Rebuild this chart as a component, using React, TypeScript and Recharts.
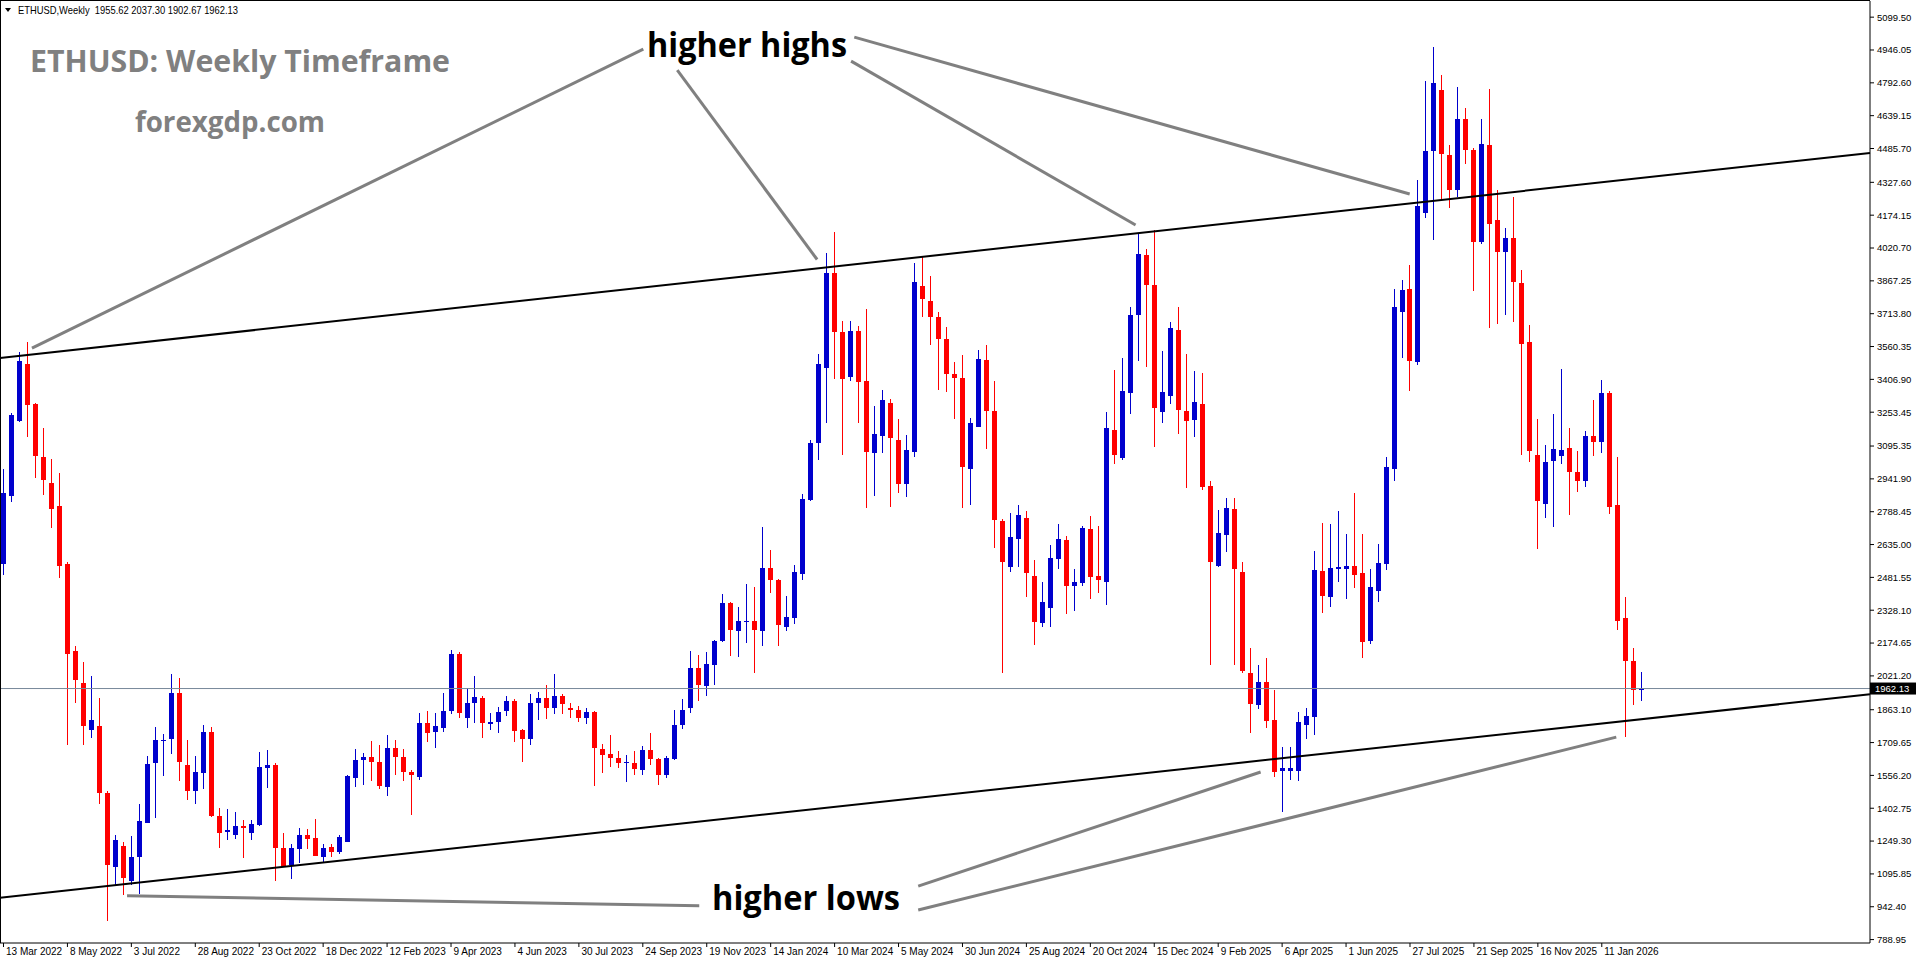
import { ComposedChart, Bar, XAxis, YAxis, ReferenceLine } from 'recharts';

const W = 1916;
const H = 964;
const SLOTS = 234; // 206 weekly bars + empty space on the right

const dateLabels = [
  '13 Mar 2022', '8 May 2022', '3 Jul 2022', '28 Aug 2022', '23 Oct 2022', '18 Dec 2022',
  '12 Feb 2023', '9 Apr 2023', '4 Jun 2023', '30 Jul 2023', '24 Sep 2023', '19 Nov 2023',
  '14 Jan 2024', '10 Mar 2024', '5 May 2024', '30 Jun 2024', '25 Aug 2024', '20 Oct 2024',
  '15 Dec 2024', '9 Feb 2025', '6 Apr 2025', '1 Jun 2025', '27 Jul 2025', '21 Sep 2025',
  '16 Nov 2025', '11 Jan 2026',
];
const BARS_PER_LABEL = 8;

const priceTicks = [
  5099.5, 4946.05, 4792.6, 4639.15, 4485.7, 4327.6, 4174.15, 4020.7, 3867.25, 3713.8,
  3560.35, 3406.9, 3253.45, 3095.35, 2941.9, 2788.45, 2635.0, 2481.55, 2328.1, 2174.65,
  2021.2, 1863.1, 1709.65, 1556.2, 1402.75, 1249.3, 1095.85, 942.4, 788.95,
];

const opens = [
  2543, 2864, 3211, 3479, 3291, 3043, 2922, 2814, 2543, 2136, 1989, 1770, 1787, 1475, 1130, 1228, 1064, 1177, 1332, 1612,
  1720, 1725, 1943, 1605, 1482, 1569, 1761, 1368, 1291, 1279, 1321, 1289, 1325, 1591, 1605, 1216, 1138, 1213, 1278, 1263,
  1177, 1221, 1200, 1247, 1546, 1626, 1643, 1619, 1504, 1685, 1643, 1571, 1551, 1802, 1761, 1780, 1855, 2124, 1826, 1893,
  1917, 1795, 1805, 1855, 1904, 1769, 1728, 1893, 1918, 1869, 1926, 1871, 1864, 1823, 1853, 1679, 1656, 1639, 1612, 1612,
  1582, 1674, 1635, 1560, 1633, 1791, 1872, 2060, 1973, 2073, 2183, 2361, 2231, 2273, 2280, 2231, 2526, 2468, 2252, 2294,
  2496, 2842, 3110, 3458, 3906, 3630, 3420, 3633, 3399, 3065, 3144, 3298, 3124, 2918, 3069, 3843, 3773, 3697, 3596, 3432,
  3415, 2988, 3186, 3497, 3259, 2745, 2532, 2661, 2758, 2488, 2270, 2340, 2569, 2655, 2439, 2457, 2706, 2488, 2462, 3170,
  3038, 3341, 3709, 3988, 3848, 3253, 3331, 3638, 3259, 3219, 3290, 2907, 2537, 2679, 2800, 2506, 2035, 1886, 1993, 1815,
  1577, 1579, 1577, 1793, 1830, 2510, 2389, 2522, 2521, 2535, 2501, 2183, 2419, 2546, 2988, 3720, 3830, 3486, 4186, 4476,
  4760, 4455, 4290, 4625, 4481, 4051, 4504, 4151, 4004, 4067, 3858, 3581, 3055, 2825, 3027, 3051, 3085, 2974, 2932, 3144,
  3113, 3341, 2818, 2290, 2090, 1955.62,
];
const highs = [
  2990, 3248, 3534, 3582, 3295, 3179, 3034, 2968, 2555, 2163, 2088, 2020, 1918, 1484, 1279, 1246, 1275, 1421, 1648, 1784,
  1750, 2029, 2011, 1721, 1648, 1793, 1784, 1403, 1400, 1386, 1346, 1346, 1666, 1675, 1612, 1286, 1236, 1309, 1305, 1352,
  1236, 1235, 1278, 1556, 1680, 1663, 1718, 1699, 1746, 1722, 1680, 1582, 1848, 1858, 1848, 1942, 2143, 2133, 1964, 2021,
  1925, 1848, 1875, 1928, 1912, 1774, 1937, 1948, 1979, 2030, 1937, 1893, 1879, 1872, 1858, 1704, 1744, 1668, 1651, 1668,
  1695, 1753, 1637, 1647, 1864, 1911, 2136, 2117, 2131, 2187, 2403, 2368, 2342, 2449, 2435, 2716, 2610, 2472, 2393, 2540,
  2869, 3124, 3525, 3999, 4095, 3680, 3680, 3656, 3736, 3284, 3357, 3315, 3222, 3147, 3952, 3977, 3890, 3720, 3652, 3487,
  3521, 3228, 3544, 3568, 3399, 2753, 2784, 2820, 2794, 2563, 2459, 2633, 2731, 2675, 2520, 2722, 2769, 2722, 3256, 3451,
  3506, 3745, 4093, 4017, 4106, 3540, 3676, 3745, 3526, 3448, 3437, 2932, 2796, 2851, 2854, 2552, 2152, 2071, 2103, 1953,
  1690, 1690, 1853, 1871, 2606, 2738, 2733, 2791, 2682, 2878, 2682, 2521, 2639, 3043, 3830, 3872, 3941, 4337, 4800, 4960,
  4830, 4500, 4772, 4674, 4486, 4625, 4765, 4290, 4114, 4258, 3918, 3660, 3220, 3099, 3244, 3453, 3178, 3074, 3167, 3311,
  3404, 3353, 3044, 2392, 2150, 2037.3,
];
const lows = [
  2493, 2832, 3207, 3136, 2945, 2868, 2713, 2479, 1698, 1895, 1698, 1732, 1421, 877, 1043, 996, 1043, 1000, 1332, 1355,
  1555, 1654, 1529, 1443, 1421, 1493, 1364, 1216, 1252, 1261, 1171, 1252, 1321, 1498, 1064, 1131, 1071, 1149, 1213, 1178,
  1146, 1174, 1190, 1245, 1500, 1512, 1532, 1492, 1462, 1556, 1532, 1369, 1537, 1710, 1683, 1761, 1844, 1823, 1780, 1803,
  1733, 1767, 1756, 1836, 1714, 1621, 1696, 1813, 1820, 1844, 1844, 1823, 1806, 1797, 1507, 1568, 1595, 1589, 1524, 1560,
  1556, 1607, 1510, 1542, 1626, 1774, 1846, 1902, 1929, 1978, 2180, 2113, 2108, 2175, 2034, 2161, 2407, 2161, 2231, 2262,
  2468, 2839, 3032, 3203, 3410, 3054, 3401, 3202, 2808, 2864, 3065, 2812, 2878, 2859, 3046, 3700, 3568, 3357, 3350, 3222,
  2808, 2820, 3182, 3082, 2621, 2037, 2509, 2532, 2392, 2164, 2252, 2249, 2523, 2309, 2326, 2439, 2379, 2407, 2353, 3012,
  3030, 3246, 3495, 3467, 3090, 3204, 3290, 3150, 2900, 3136, 2891, 2071, 2530, 2601, 2071, 2035, 1754, 1866, 1777, 1549,
  1385, 1536, 1531, 1726, 1744, 2316, 2343, 2461, 2379, 2430, 2107, 2171, 2365, 2516, 2930, 3509, 3353, 3476, 4162, 4058,
  4248, 4207, 4260, 4411, 3818, 4039, 3648, 3667, 3709, 3674, 3055, 3020, 2616, 2760, 2718, 3011, 2771, 2881, 2904, 3051,
  3062, 2778, 2237, 1736, 1883, 1902.67,
];
const closes = [
  2877, 3240, 3493, 3288, 3047, 2936, 2802, 2534, 2123, 2002, 1787, 1814, 1475, 1136, 1252, 1078, 1177, 1345, 1609, 1721,
  1723, 1943, 1621, 1482, 1573, 1761, 1368, 1289, 1303, 1321, 1309, 1330, 1596, 1605, 1215, 1134, 1216, 1278, 1260, 1180,
  1216, 1199, 1267, 1554, 1629, 1643, 1621, 1509, 1685, 1640, 1570, 1556, 1802, 1756, 1788, 1858, 2124, 1847, 1893, 1921,
  1799, 1805, 1852, 1904, 1766, 1728, 1893, 1918, 1869, 1926, 1892, 1862, 1823, 1851, 1682, 1653, 1639, 1612, 1617, 1586,
  1674, 1635, 1560, 1639, 1793, 1864, 2060, 1978, 2075, 2183, 2361, 2236, 2277, 2280, 2236, 2526, 2470, 2257, 2298, 2505,
  2846, 3110, 3479, 3906, 3630, 3409, 3633, 3396, 3069, 3152, 3311, 3135, 2918, 3077, 3863, 3784, 3700, 3596, 3432, 3415,
  2999, 3202, 3502, 3261, 2750, 2555, 2669, 2773, 2501, 2275, 2365, 2571, 2660, 2439, 2459, 2711, 2485, 2467, 3178, 3054,
  3352, 3709, 3993, 3848, 3272, 3346, 3649, 3263, 3214, 3299, 2902, 2552, 2688, 2808, 2521, 2044, 1890, 1993, 1812, 1572,
  1590, 1590, 1806, 1833, 2515, 2394, 2524, 2528, 2535, 2495, 2180, 2437, 2548, 2997, 3744, 3823, 3492, 4218, 4476, 4793,
  4458, 4293, 4625, 4481, 4051, 4509, 4132, 4004, 4067, 3860, 3574, 3074, 2837, 3020, 3081, 3078, 2974, 2932, 3141, 3113,
  3341, 2811, 2278, 2092, 1953, 1962.13,
];

// channel lines: [bar index, price] at the left and right edges of the chart
const upperChannel = [[-0.5, 3507], [233.5, 4465]];
const lowerChannel = [[-0.5, 985], [233.5, 1935]];

// grey pointer lines from the captions to the touches
const highPointers = [
  [[80, 4950], [3.5, 3553]],
  [[84.25, 4852], [101.75, 3967]],
  [[106, 4894], [141.6, 4128]],
  [[106.4, 5006], [175.9, 4273]],
];
const lowPointers = [
  [[114.4, 1039], [157.25, 1572]],
  [[114.4, 927], [201.75, 1735]],
  [[15.4, 994], [87, 947]],
];

const last = opens.length - 1;
const data = Array.from({ length: SLOTS }, (_, i) =>
  i < opens.length
    ? { idx: i, o: opens[i], h: highs[i], l: lows[i], c: closes[i], range: [lows[i], highs[i]] }
    : { idx: i },
);

const AXIS_FONT = '"Liberation Sans", Arial, sans-serif';

function Candle(props: any) {
  const { x, y, width, height, payload } = props;
  if (!payload || payload.o == null || y == null) return null;
  const { o, h, l, c } = payload;
  const top = Math.min(y, y + height);
  const span = Math.abs(height);
  const k = h - l > 0 ? span / (h - l) : 0;
  const cx = Math.floor(x + width / 2);
  const bTop = top + (h - Math.max(o, c)) * k;
  const bBot = top + (h - Math.min(o, c)) * k;
  const color = c >= o ? '#0000cd' : '#ff0000';
  return (
    <g shapeRendering="crispEdges">
      <rect x={cx} y={top} width={1} height={Math.max(span, 1)} fill={color} />
      <rect x={cx - 2} y={bTop} width={5} height={Math.max(bBot - bTop, 1)} fill={color} />
    </g>
  );
}

function DateTick(props: any) {
  const { x, y, payload } = props;
  const label = dateLabels[payload.value / BARS_PER_LABEL];
  if (!label) return null;
  return (
    <g>
      <line x1={x - 0.5} x2={x - 0.5} y1={y} y2={y + 4} stroke="#000" />
      <text x={x + 2} y={y + 12} fontSize={10} fontFamily={AXIS_FONT} fill="#000">
        {label}
      </text>
    </g>
  );
}

function PriceTag(props: any) {
  const vb = props.viewBox || {};
  const x = (vb.x || 0) + (vb.width || 0);
  const y = vb.y || 0;
  return (
    <g>
      <rect x={x} y={y - 6} width={46} height={12} fill="#000" />
      <text x={x + 5} y={y + 3.5} fontSize={9.5} fontFamily={AXIS_FONT} fill="#fff">
        {closes[last].toFixed(2)}
      </text>
    </g>
  );
}

const seg = (s: number[][]) => s.map(([i, p]) => ({ x: i, y: p }));

export default function App() {
  const header = `ETHUSD,Weekly  ${opens[last].toFixed(2)} ${highs[last].toFixed(2)} ${lows[last].toFixed(2)} ${closes[last].toFixed(2)}`;
  return (
    <div style={{ position: 'absolute', left: 0, top: 0, width: W, height: H, background: '#fff' }}>
      <ComposedChart width={W} height={H} data={data} margin={{ top: 1, right: 0, bottom: 0, left: 0 }}>
        <XAxis
          xAxisId="cat"
          dataKey="idx"
          type="category"
          ticks={dateLabels.map((_, k) => k * BARS_PER_LABEL)}
          interval={0}
          tick={<DateTick />}
          tickLine={false}
          tickSize={0}
          tickMargin={0}
          axisLine={{ stroke: '#000' }}
          height={21}
        />
        <XAxis xAxisId="num" dataKey="idx" type="number" domain={[-0.5, SLOTS - 0.5]} allowDataOverflow hide />
        <YAxis
          orientation="right"
          type="number"
          domain={[773, 5175]}
          allowDataOverflow
          ticks={priceTicks}
          interval={0}
          width={46}
          tickSize={4}
          tickMargin={3}
          tickLine={{ stroke: '#000' }}
          axisLine={{ stroke: '#000' }}
          tick={{ fontSize: 9.5, fill: '#000', fontFamily: AXIS_FONT }}
          tickFormatter={(v: number) => v.toFixed(2)}
        />
        <ReferenceLine
          xAxisId="cat"
          y={closes[last]}
          stroke="#778899"
          strokeWidth={1}
          label={<PriceTag />}
        />
        <ReferenceLine xAxisId="num" segment={seg(upperChannel)} stroke="#000" strokeWidth={2} />
        <ReferenceLine xAxisId="num" segment={seg(lowerChannel)} stroke="#000" strokeWidth={2} />
        {[...highPointers, ...lowPointers].map((s, k) => (
          <ReferenceLine key={k} xAxisId="num" segment={seg(s)} stroke="#808080" strokeWidth={3} />
        ))}
        <Bar xAxisId="cat" dataKey="range" barSize={5} isAnimationActive={false} shape={(p: any) => <Candle {...p} />} />
      </ComposedChart>
      <svg width={W} height={H} style={{ position: 'absolute', left: 0, top: 0, pointerEvents: 'none' }}>
        <line x1={0.5} y1={0} x2={0.5} y2={943} stroke="#000" />
        <line x1={0} y1={0.5} x2={1870} y2={0.5} stroke="#000" />
        <polygon points="5,8 11,8 8,12" fill="#000" />
        <text x={18} y={14} fontSize={11} fontFamily={AXIS_FONT} fill="#000" style={{ whiteSpace: 'pre' }} textLength={220} lengthAdjust="spacingAndGlyphs">
          {header}
        </text>
        <text x={30} y={72} fontSize={31} fontWeight="bold" fontFamily='"Open Sans", sans-serif' fill="#808080" textLength={420} lengthAdjust="spacingAndGlyphs">
          ETHUSD: Weekly Timeframe
        </text>
        <text x={135} y={132} fontSize={29} fontWeight="bold" fontFamily='"Open Sans", sans-serif' fill="#808080" textLength={190} lengthAdjust="spacingAndGlyphs">
          forexgdp.com
        </text>
        <text x={647} y={57} fontSize={34} fontWeight="bold" fontFamily='"Open Sans", sans-serif' fill="#000" textLength={200} lengthAdjust="spacingAndGlyphs">
          higher highs
        </text>
        <text x={712} y={910} fontSize={34} fontWeight="bold" fontFamily='"Open Sans", sans-serif' fill="#000" textLength={188} lengthAdjust="spacingAndGlyphs">
          higher lows
        </text>
      </svg>
    </div>
  );
}
